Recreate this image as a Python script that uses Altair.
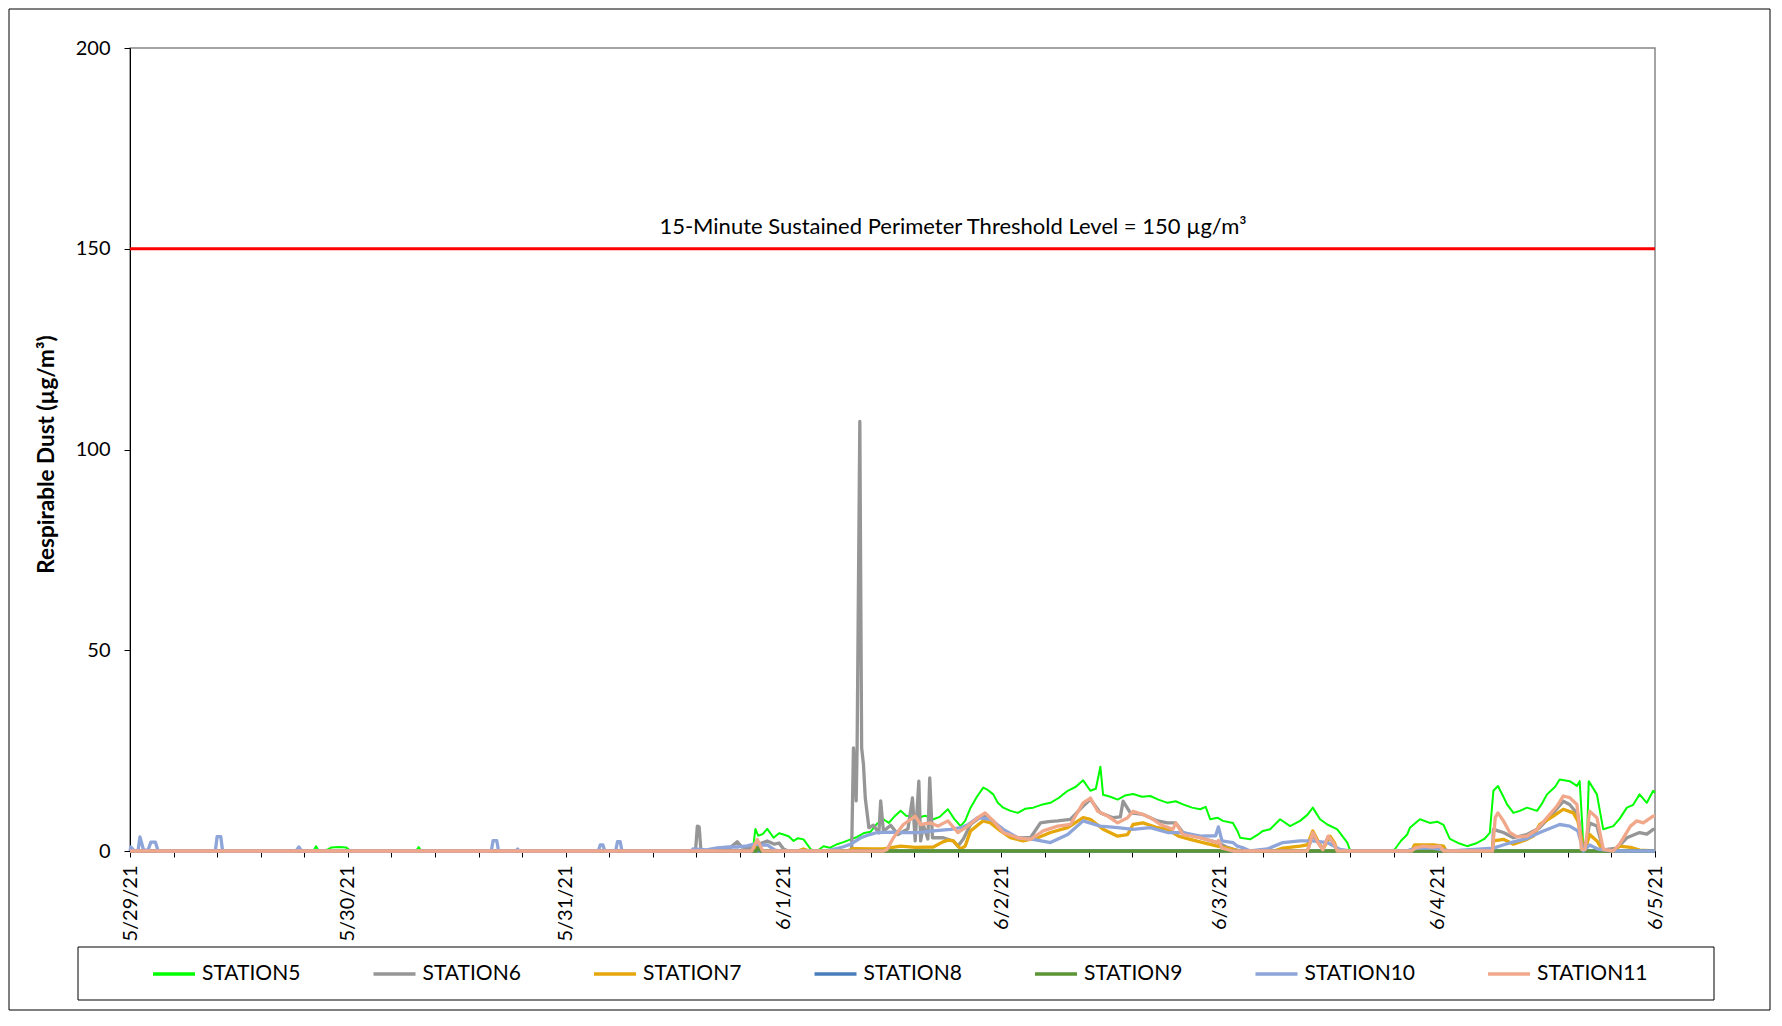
import altair as alt
import pandas as pd

# ---------------- data (hours after 5/29/21 00:00, value in ug/m3) ----------------
STATIONS = ["STATION5", "STATION6", "STATION7", "STATION8", "STATION9", "STATION10", "STATION11"]
COLORS = ["#00FF00", "#969696", "#E5A70B", "#4A7EBB", "#5C9534", "#8EA5DA", "#F1A78A"]

THRESHOLD = 150
ANNOTATION = "15-Minute Sustained Perimeter Threshold Level = 150 µg/m³"
Y_TITLE = "Respirable Dust (µg/m³)"
Y_TICKS = [0, 50, 100, 150, 200]

S5 = [(0,0),(20.2,0),(20.5,1.2),(20.8,0),(21.7,0.3),(22.2,0.9),(23.0,1.0),(23.8,0.9),(24.2,0.2),(27.0,0.1),
      (31.5,0),(31.8,1.0),(32.1,0),(68.6,0),(68.9,5.5),(69.2,3.8),(69.7,4.2),(70.2,5.5),(70.9,3.3),(71.5,4.4),
      (72.0,4.1),(72.6,3.6),(73.1,2.5),(73.6,3.2),(74.2,2.9),(75.0,0.4),(75.7,0),(76.4,1.2),(77.1,0.8),(77.9,1.7),
      (78.6,2.2),(79.4,2.9),(80.1,3.5),(80.9,4.5),(81.6,4.8),(82.3,6.8),(83.0,7.9),(83.6,7.0),(84.3,8.8),(84.9,10.0),
      (85.5,8.8),(86.2,8.6),(86.8,8.3),(87.6,8.8),(88.5,7.9),(89.2,8.5),(90.1,10.4),(90.8,8.0),(91.5,6.2),(92.0,7.5),
      (92.6,10.8),(93.3,13.5),(94.0,15.8),(94.5,15.2),(95.1,14.1),(95.6,12.0),(96.2,10.8),(97.0,10.0),(97.8,9.5),
      (98.6,10.5),(99.5,10.8),(100.4,11.5),(101.4,12.0),(102.3,13.2),(103.3,15.0),(104.2,16.0),(105.0,17.6),
      (105.8,15.0),(106.4,15.5),(106.9,21.0),(107.2,14.0),(108.0,13.5),(108.8,12.8),(109.6,13.8),(110.5,14.2),
      (111.5,13.5),(112.4,13.7),(113.3,12.8),(114.3,12.0),(115.2,12.4),(116.0,11.6),(117.0,10.8),(117.9,10.4),
      (118.5,11.0),(119.0,7.9),(119.8,8.3),(120.4,7.5),(121.5,7.0),(122.0,5.0),(122.3,3.3),(123.4,2.9),(124.2,4.0),
      (124.8,5.0),(125.6,5.4),(126.7,7.9),(127.8,6.2),(128.9,7.5),(129.7,9.0),(130.3,10.8),(131.1,7.9),(131.9,6.6),
      (133.0,5.4),(134.1,2.1),(134.4,0.2),(134.7,0),(139.2,0),(140.0,2.5),(140.7,4.1),(141.0,5.8),(142.1,7.9),
      (143.2,7.0),(144.0,7.3),(144.7,6.5),(145.4,3.0),(146.3,2.0),(147.3,1.2),(148.4,2.0),(149.2,3.0),(149.8,4.5),
      (150.2,15.0),(150.7,16.2),(151.3,13.5),(151.7,11.6),(152.4,9.5),(153.1,10.0),(153.9,10.8),(155.0,10.0),
      (155.6,12.0),(156.1,14.1),(157.0,16.0),(157.5,17.8),(158.6,17.4),(159.4,16.2),(159.7,17.4),(160.0,6.0),
      (160.1,0),(160.5,2.5),(160.7,17.4),(161.6,14.1),(162.3,5.4),(163.4,6.2),(164.1,8.0),(164.9,10.8),(165.6,11.5),
      (166.3,14.1),(167.1,12.0),(167.8,15.0),(168.0,14.5)]

S6 = [(0,0),(62.3,0),(62.5,6.2),(62.7,6.0),(62.9,0),(65.5,0),(66.2,1.0),(66.9,2.3),(67.4,1.0),(68.5,0.8),(69.0,1.5),
      (70.2,2.5),(71.0,1.7),(71.5,2.0),(72.0,0.5),(72.5,0),(79.5,0),(79.7,25.7),(80.0,12.5),(80.1,25.7),(80.4,107.0),
      (80.6,25.7),(80.8,21.6),(81.0,13.2),(81.4,5.8),(81.9,6.4),(82.5,4.5),(82.7,12.5),(83.0,4.9),(83.8,6.4),(84.6,4.1),
      (85.7,5.5),(86.2,13.2),(86.5,2.5),(86.9,17.4),(87.1,2.5),(87.4,6.4),(87.9,3.0),(88.1,18.2),(88.4,3.3),(89.6,3.3),
      (90.7,2.5),(91.2,1.2),(91.8,3.0),(92.6,6.6),(93.4,8.0),(94.0,8.7),(94.5,8.5),(95.1,7.5),(96.2,4.6),(97.0,3.8),
      (97.8,3.3),(99.2,3.3),(100.3,7.0),(101.2,7.3),(102.2,7.5),(103.6,7.9),(105.0,11.2),(105.8,12.9),(106.9,9.5),
      (108.3,8.3),(109.1,8.5),(109.4,12.4),(110.2,9.5),(111.6,9.1),(113.2,7.5),(114.3,7.0),(115.2,7.0),(116.0,4.6),
      (117.9,3.3),(119.8,2.1),(120.8,1.0),(121.5,0.5),(122.3,0),(129.7,0),(130.3,4.1),(130.9,2.0),(131.4,0.5),
      (132.0,3.5),(132.6,2.0),(133.0,0),(150.1,0),(150.2,5.4),(150.7,5.0),(151.3,4.6),(152.4,3.3),(153.9,4.1),
      (155.3,5.8),(156.8,9.5),(157.9,12.4),(158.6,11.6),(159.5,9.1),(159.9,3.0),(160.1,0),(160.5,3.0),(160.8,7.0),
      (161.6,6.2),(162.3,0.3),(163.8,0.7),(164.9,3.3),(166.3,4.6),(167.1,4.2),(167.8,5.4),(168.0,5.4)]

S7 = [(0,0),(68.6,0),(69.0,1.5),(69.5,0),(73.5,0),(74.2,0.5),(74.8,0),(79.0,0),(79.7,0.6),(82.0,0.5),(83.0,0.5),
      (84.9,1.2),(86.5,0.9),(88.5,1.0),(89.5,2.2),(90.1,2.7),(90.7,2.5),(91.5,0.5),(92.0,1.2),(92.6,5.0),(93.4,6.5),
      (94.0,7.5),(94.8,7.0),(95.9,5.0),(97.0,3.3),(98.4,2.5),(100.0,3.3),(101.4,4.6),(103.3,5.8),(105.0,8.3),
      (105.8,7.9),(107.2,5.4),(108.8,3.7),(109.9,4.1),(110.5,6.6),(111.6,7.0),(113.2,5.8),(114.3,5.4),(115.5,3.7),
      (116.8,2.9),(118.2,2.1),(119.8,1.2),(121.5,0.4),(122.3,0),(126.0,0),(127.0,0.7),(128.9,1.2),(129.7,1.5),
      (130.3,5.0),(131.0,2.0),(131.4,0.3),(132.2,3.7),(132.7,2.0),(133.0,0),(141.2,0),(141.5,1.5),(143.6,1.5),
      (144.7,1.2),(145.0,0),(150.1,0),(150.2,2.5),(151.3,2.9),(151.7,2.5),(152.4,1.7),(153.9,2.9),(154.6,3.7),
      (155.3,6.6),(156.8,8.7),(157.9,10.4),(159.0,9.5),(159.5,7.5),(159.9,3.0),(160.1,0),(160.4,1.0),(160.8,4.1),
      (161.6,2.5),(162.3,0),(163.4,0),(164.1,1.2),(165.3,0.9),(166.3,0.2),(168.0,0)]

S8 = [(0,0),(168.0,0)]

S9 = [(68.5,0),(69.0,0),(69.2,1.0),(69.5,0),(168.0,0)]

S10 = [(0,0),(0.1,1.0),(0.5,0),(0.9,0.3),(1.1,3.5),(1.5,0.2),(2.0,0.3),(2.3,2.2),(2.8,2.2),(3.1,0),(9.4,0),(9.6,3.6),
       (10.0,3.6),(10.2,0),(18.3,0),(18.6,1.0),(18.9,0),(39.8,0),(40.0,2.6),(40.4,2.6),(40.6,0),(42.5,0),(42.7,0.5),
       (42.9,0),(51.6,0),(51.8,1.5),(52.1,1.5),(52.3,0),(53.5,0),(53.7,2.3),(54.0,2.3),(54.2,0),(61.8,0),(62.0,0.5),
       (63.5,0.3),(64.7,0.8),(66.0,1.0),(67.0,1.0),(68.0,1.3),(68.7,1.7),(69.5,1.5),(70.2,1.5),(71.0,0.3),(71.5,0),
       (76.5,0),(77.5,0.4),(78.5,1.0),(79.4,1.7),(80.5,3.3),(81.5,4.1),(82.3,4.6),(84.0,4.7),(85.2,4.6),(86.8,4.6),
       (88.5,5.0),(90.4,5.4),(91.5,5.8),(92.3,6.5),(93.4,8.3),(94.8,7.9),(96.2,5.4),(97.8,3.3),(99.5,2.9),(101.4,2.1),
       (103.3,4.1),(105.0,7.5),(106.9,6.2),(108.8,5.8),(110.5,5.4),(112.4,5.8),(114.3,4.6),(116.0,4.6),(117.9,3.7),
       (119.6,3.8),(119.9,6.0),(120.3,2.5),(121.5,2.1),(122.0,1.2),(122.6,0.8),(123.4,0),(125.3,0.5),(127.0,2.1),
       (128.9,2.5),(130.3,2.5),(131.9,2.1),(133.3,0.4),(134.4,0),(140.7,0),(141.0,0.3),(142.0,0.8),(143.5,0.7),
       (144.7,0.3),(145.5,0),(150.2,0.7),(151.0,1.3),(152.0,2.0),(153.9,3.1),(155.3,4.6),(157.5,6.6),(158.6,6.2),
       (159.5,5.0),(160.0,1.0),(160.1,0),(160.8,1.5),(161.7,0.5),(163.4,0),(168.0,0)]

S11 = [(0,0),(68.5,0),(69.1,2.9),(69.7,0),(83.0,0),(83.4,0.4),(84.1,3.3),(85.2,6.6),(86.5,8.7),(87.1,6.6),(88.2,7.0),
       (89.0,6.2),(90.1,7.5),(91.2,4.6),(92.3,6.2),(93.4,8.3),(94.2,9.5),(95.1,7.5),(96.2,4.6),(97.8,3.3),(99.2,2.9),
       (100.6,5.0),(102.2,6.2),(103.6,6.6),(105.0,12.0),(105.8,13.2),(106.6,9.9),(107.7,8.7),(108.8,7.0),(109.9,8.3),
       (110.5,9.9),(111.6,9.1),(112.4,8.3),(113.5,6.6),(114.9,5.4),(115.2,7.0),(116.0,4.1),(117.9,3.3),(119.8,2.1),
       (119.9,2.6),(120.3,0.7),(121.5,0),(129.7,0),(129.9,1.2),(130.3,4.6),(130.9,2.0),(131.4,0.3),(132.0,3.7),
       (132.6,2.0),(133.0,0),(141.2,0),(141.6,0.8),(142.5,1.2),(143.5,1.0),(144.3,1.2),(144.7,0),(150.1,0),(150.4,8.3),
       (150.7,9.5),(151.3,7.5),(152.0,4.6),(152.8,3.5),(153.9,3.7),(155.0,5.4),(156.1,8.3),(157.2,11.2),(157.9,13.7),
       (158.6,13.3),(159.4,11.6),(159.9,0.4),(160.3,0.4),(160.8,9.9),(161.6,8.3),(162.3,0.4),(163.4,0),(164.1,1.7),
       (165.3,6.2),(166.0,7.5),(166.7,7.0),(167.8,8.7),(168.0,8.7)]

SERIES = [S5, S6, S7, S8, S9, S10, S11]

# ---------------- build table ----------------
START_MS = int(pd.Timestamp("2021-05-29", tz="UTC").value // 10**6)
HOUR_MS = 3600 * 1000
END_MS = START_MS + 168 * HOUR_MS

rows = []
for name, pts in zip(STATIONS, SERIES):
    for h, v in pts:
        rows.append({"t": START_MS + int(round(h * HOUR_MS)), "value": v, "station": name})
df = pd.DataFrame(rows)

TICKS = [START_MS + i * 288 * 60 * 1000 for i in range(36)]  # every 0.2 day

W, H = 1525, 803

x_enc = alt.X("t:T",
              scale=alt.Scale(type="utc", domain=[START_MS, END_MS], nice=False),
              axis=alt.Axis(values=TICKS, title=None, grid=False, labelAngle=270,
                            labelExpr="utchours(datum.value) == 0 && utcminutes(datum.value) == 0 ? utcFormat(datum.value, '%-m/%-d/%y') : ''",
                            labelFontSize=20, labelPadding=8, tickSize=6, labelOverlap=False,
                            labelFlush=False, labelBound=False,
                            domainColor="#000000", tickColor="#000000", labelColor="#000000"))
y_enc = alt.Y("value:Q",
              scale=alt.Scale(domain=[0, 200], nice=False),
              axis=alt.Axis(values=Y_TICKS, title=Y_TITLE, grid=False, labelFontSize=20, labelPadding=14,
                            tickSize=6, domainColor="#000000", tickColor="#000000", labelColor="#000000",
                            titleColor="#000000", titleFontSize=22.5, titleFontWeight="bold",
                            titleX=-84, titleY=406, titleAngle=270, titleAlign="center",
                            titleBaseline="middle"))
color_enc = alt.Color("station:N",
                      scale=alt.Scale(domain=STATIONS, range=COLORS),
                      legend=alt.Legend(title=None, orient="none", legendX=21, legendY=903,
                                        direction="horizontal", columns=7, symbolType="stroke",
                                        symbolSize=1764, symbolStrokeWidth=3.5, labelFontSize=21,
                                        labelColor="#000000", labelOffset=5, columnPadding=65.5,
                                        padding=0, labelLimit=400))

base = alt.Chart(df).encode(x=x_enc, y=y_enc, color=color_enc)

green_line = base.transform_filter(alt.datum.station == "STATION5").mark_line(
    strokeWidth=2, strokeJoin="round")
other_lines = base.transform_filter(alt.datum.station != "STATION5").mark_line(
    strokeWidth=3.3, strokeJoin="round")

one = pd.DataFrame({"k": [0]})

rule = alt.Chart(one).mark_rule(color="#FF0000", strokeWidth=3).encode(y=alt.datum(THRESHOLD))

label = alt.Chart(pd.DataFrame({"label": [ANNOTATION]})).mark_text(
    font="Lato", fontSize=22, color="#000000", align="center", baseline="middle"
).encode(text="label:N", x=alt.value(823), y=alt.value(179))

legend_frame = alt.Chart(one).mark_rect(fillOpacity=0, stroke="#000000", strokeWidth=1).encode(
    x=alt.value(-52), x2=alt.value(1584), y=alt.value(899), y2=alt.value(952))

outer_frame = alt.Chart(one).mark_rect(fillOpacity=0, stroke="#000000", strokeWidth=1).encode(
    x=alt.value(-121), x2=alt.value(1640), y=alt.value(-39), y2=alt.value(962))

chart = alt.layer(outer_frame, legend_frame, green_line, other_lines, rule, label).properties(
    width=W, height=H, padding=0, background="white"
).configure_view(stroke="#868686", strokeWidth=1.5).configure_axis(
    labelFont="Lato", titleFont="Lato"
).configure_legend(labelFont="Lato")

chart.save("out.html", embed_options={"renderer": "svg", "actions": False})
